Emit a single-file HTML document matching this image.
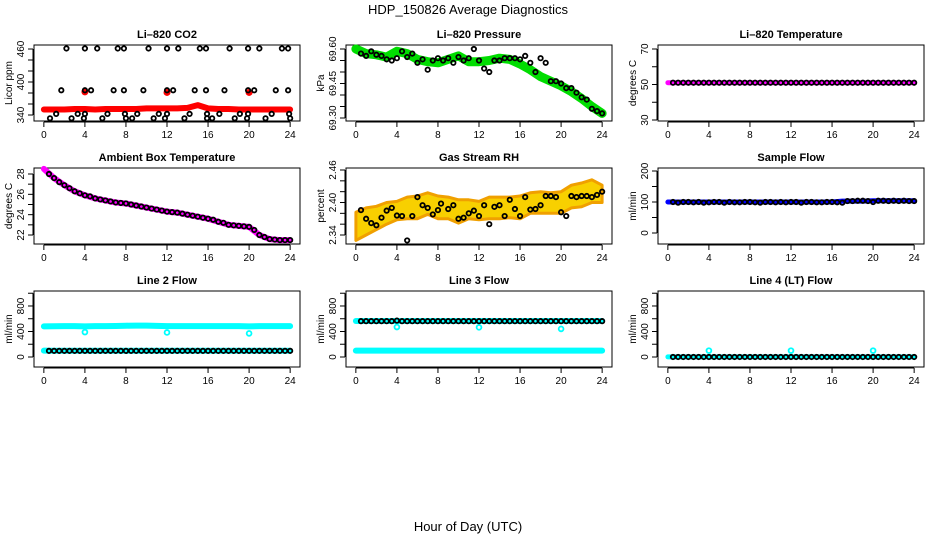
<!DOCTYPE html>
<html><head><meta charset="utf-8">
<style>
html,body{margin:0;padding:0;background:#fff;}
svg{display:block;font-family:"Liberation Sans",Arial,sans-serif;}
</style></head>
<body>
<svg id="chart" width="936" height="540" viewBox="0 0 936 540" xmlns="http://www.w3.org/2000/svg">
<rect width="936" height="540" fill="#fff"/>
<text x="468" y="14" text-anchor="middle" font-size="13">HDP_150826  Average Diagnostics</text>
<text x="468" y="531" text-anchor="middle" font-size="13">Hour of Day (UTC)</text>
</svg>
<script>
// ---- data ----
const xTicks = [0,4,8,12,16,20,24];
const halfHours = [0.5,1,1.5,2,2.5,3,3.5,4,4.5,5,5.5,6,6.5,7,7.5,8,8.5,9,9.5,10,10.5,11,11.5,12,12.5,13,13.5,14,14.5,15,15.5,16,16.5,17,17.5,18,18.5,19,19.5,20,20.5,21,21.5,22,22.5,23,23.5,24];
const hours = [0,1,2,3,4,5,6,7,8,9,10,11,12,13,14,15,16,17,18,19,20,21,22,23,24];

// CO2
const co2BlackHours = [2.2,4.0,5.2,7.2,7.8,10.2,12.0,13.1,15.2,15.8,18.1,19.9,21.0,23.2,23.8, 1.7,4,4.6,6.8,7.8,9.7,12,12.6,14.7,15.8,17.6,19.9,20.5,22.6,23.8, 1.2,3.3,4,6.2,7.9,9.1,11.2,12,14.2,15.9,17.1,19.1,19.9,22.2,23.9, 0.6,2.7,3.9,5.7,8,8.6,10.7,11.8,13.7,15.9,16.4,18.6,19.8,21.6,24];
const co2BlackVals = [461,461,461,461,461,461,461,461,461,461,461,461,461,461,461, 385,385,385,385,385,385,385,385,385,385,385,385,385,385,385, 342,342,342,342,342,342,342,342,342,342,342,342,342,342,342, 334,334,334,334,334,334,334,334,334,334,334,334,334,334,334];
const co2Red = [350,350,350,351,351,350,351,351,351,351,352,352,352,352,353,358,352,351,351,350,350,350,350,350,350];
const co2SpikeHours = [4,12,20];
const co2SpikeVals = [382,381,381];

// Pressure
const presGreen = [69.600,69.580,69.575,69.565,69.590,69.580,69.555,69.545,69.540,69.555,69.570,69.545,69.545,69.550,69.560,69.555,69.535,69.510,69.480,69.460,69.440,69.415,69.385,69.350,69.320];
const presBlack = [69.580,69.570,69.590,69.575,69.570,69.555,69.550,69.560,69.590,69.565,69.580,69.540,69.555,69.510,69.550,69.560,69.550,69.560,69.540,69.565,69.550,69.560,69.600,69.550,69.515,69.500,69.550,69.550,69.560,69.560,69.560,69.555,69.570,69.540,69.500,69.560,69.540,69.460,69.460,69.450,69.430,69.430,69.410,69.390,69.380,69.340,69.330,69.320];

// Li-820 temperature
const tempMag = [51,51,51,51,51,51,51,51,51,51,51,51,51,51,51,51,51,51,51,51,51,51,51,51,51];
const tempBlack = [51,51,51,51,51,51,51,51,51,51,51,51,51,51,51,51,51,51,51,51,51,51,51,51,51,51,51,51,51,51,51,51,51,51,51,51,51,51,51,51,51,51,51,51,51,51,51,51];

// Ambient box temperature
const ambMag = [28.5,27.6,26.9,26.3,25.9,25.6,25.4,25.2,25.1,24.9,24.7,24.5,24.3,24.2,24.0,23.8,23.6,23.3,23.0,22.9,22.8,22.0,21.6,21.5,21.5];
const ambBlack = [28.0,27.6,27.2,26.9,26.6,26.3,26.1,25.9,25.8,25.6,25.5,25.4,25.3,25.2,25.15,25.1,25.0,24.9,24.8,24.7,24.6,24.5,24.4,24.3,24.25,24.2,24.1,24.0,23.9,23.8,23.7,23.6,23.5,23.3,23.2,23.0,22.95,22.9,22.85,22.8,22.5,22.0,21.8,21.6,21.55,21.5,21.5,21.5];

// Gas stream RH
const rhLow  = [2.330,2.340,2.350,2.360,2.368,2.370,2.370,2.378,2.370,2.370,2.362,2.370,2.368,2.370,2.370,2.372,2.370,2.380,2.380,2.380,2.380,2.390,2.392,2.400,2.400];
const rhHigh = [2.382,2.390,2.393,2.400,2.402,2.410,2.412,2.418,2.412,2.410,2.405,2.405,2.402,2.410,2.410,2.410,2.412,2.418,2.420,2.418,2.420,2.432,2.436,2.442,2.432];
const rhBlackHours = [0.5,1,1.5,2,2.5,3,3.5,4,4.5,5,5.5,6,6.5,7,7.5,8,8.3,9,9.5,10,10.5,11,11.5,12,12.5,13,13.5,14,14.5,15,15.5,16,16.5,17,17.5,18,18.5,19,19.5,20,20.5,21,21.5,22,22.5,23,23.5,24];
const rhBlack = [2.386,2.370,2.362,2.358,2.372,2.385,2.390,2.376,2.375,2.330,2.375,2.410,2.395,2.390,2.378,2.386,2.398,2.388,2.395,2.370,2.372,2.380,2.385,2.375,2.395,2.360,2.392,2.395,2.375,2.405,2.388,2.375,2.410,2.387,2.388,2.395,2.412,2.412,2.410,2.382,2.375,2.412,2.410,2.412,2.412,2.410,2.414,2.420];

// Sample flow
const sfBlue = [100,100,100,100,100,100,100,100,100,100,100,100,100,100,100,100,100,103,103,103,104,104,104,104,104];
const sfBlack = [100,98,100,100,99,100,98,99,100,100,98,100,99,99,100,100,99,98,100,100,99,100,99,100,100,98,100,100,99,99,100,100,99,98,103,103,104,104,103,100,104,104,103,104,103,104,103,103];

// Line 2 flow
const l2Upper = [480,482,484,484,480,484,484,486,490,492,492,488,484,484,484,484,484,484,484,484,480,484,484,484,484];
const l2UpperDipHours = [4,12,20];
const l2UpperDips = [390,385,370];
const l2Lower = [100,98,98,98,98,98,98,98,98,98,98,98,98,98,98,98,98,98,98,98,98,98,98,98,98];
const l2Black = [96,96,96,96,96,96,96,96,96,96,96,96,96,96,96,96,96,96,96,96,96,96,96,96,96,96,96,96,96,96,96,96,96,96,96,96,96,96,96,96,96,96,96,96,96,96,96,96];

// Line 3 flow
const l3Upper = [565,565,565,565,565,565,565,565,565,565,565,565,565,565,565,565,565,565,565,565,565,565,565,565,565];
const l3UpperDipHours = [4,12,20];
const l3UpperDips = [470,465,440];
const l3Lower = [100,100,100,100,100,100,100,100,100,100,100,100,100,100,100,100,100,100,100,100,100,100,100,100,100];
const l3Black = [562,562,562,562,562,562,562,570,562,562,562,562,562,562,562,562,562,562,562,562,562,562,562,562,562,562,562,562,562,562,562,562,562,562,562,562,562,562,562,562,562,562,562,562,562,562,562,562];

// Line 4 flow
const l4Cyan = [2,1,1,1,1,1,1,1,1,1,1,1,1,1,1,1,1,1,1,1,1,1,1,1,1];
const l4SpikeHours = [4,12,20];
const l4Spikes = [100,100,100];
const l4Black = [0,0,0,0,0,0,0,0,0,0,0,0,0,0,0,0,0,0,0,0,0,0,0,0,0,0,0,0,0,0,0,0,0,0,0,0,0,0,0,0,0,0,0,0,0,0,0,0];

// ---- layout ----
const NS = 'http://www.w3.org/2000/svg';
const svg = document.getElementById('chart');
const colLeft = [34,346,658], rowTop = [45,168,291], PW = 266, PH = 76;
function mk(tag, attrs, parent){const e=document.createElementNS(NS,tag);for(const k in attrs)e.setAttribute(k,attrs[k]);(parent||svg).appendChild(e);return e;}

function panel(col,row,title,ylab,ymin,ymax,yTicks,yLabels,name){
  const L=colLeft[col],T=rowTop[row];
  const g=mk('g',{});
  
  
  const xs=h=>L+(h+0.96)*PW/25.92;
  const ys=v=>T+(ymax-v)/(ymax-ymin)*PH;
  const fr=mk('rect',{x:L,y:T,width:PW,height:PH,fill:'none',stroke:'#000','stroke-width':1},g);
  
  
  const tt=mk('text',{x:L+PW/2,y:T-7,'text-anchor':'middle','font-size':11,'font-weight':'bold'},g);
  tt.textContent=title;
  
  
  const xa=mk('g',{},g);
  
  
  mk('line',{x1:xs(xTicks[0]),x2:xs(xTicks[xTicks.length-1]),y1:T+PH+1,y2:T+PH+1,stroke:'#000'},xa);
  xTicks.forEach(t=>{
    mk('line',{x1:xs(t),x2:xs(t),y1:T+PH+1,y2:T+PH+6,stroke:'#000'},xa);
    const lb=mk('text',{x:xs(t),y:T+PH+17,'text-anchor':'middle','font-size':10},xa);
    lb.textContent=t;
    
    
  });
  const ya=mk('g',{},g);
  
  
  mk('line',{x1:L-1,x2:L-1,y1:ys(yTicks[0]),y2:ys(yTicks[yTicks.length-1]),stroke:'#000'},ya);
  yTicks.forEach(t=>mk('line',{x1:L-1,x2:L-6,y1:ys(t),y2:ys(t),stroke:'#000'},ya));
  yLabels.forEach(t=>{
    const lb=mk('text',{x:0,y:0,'text-anchor':'middle','font-size':10,transform:`translate(${L-10},${ys(t)}) rotate(-90)`},ya);
    lb.textContent=t;
    
    
  });
  const yl=mk('text',{x:0,y:0,'text-anchor':'middle','font-size':10,transform:`translate(${L-22},${T+PH/2}) rotate(-90)`},g);
  yl.textContent=ylab;
  
  
  return {g,xs,ys};
}
function band(p,xsArr,vals,color,w,name){
  const pts=xsArr.map((h,i)=>p.xs(h).toFixed(1)+','+p.ys(vals[i]).toFixed(1)).join(' ');
  const pl=mk('polyline',{points:pts,fill:'none',stroke:color,'stroke-width':w,'stroke-linejoin':'round','stroke-linecap':'round'},p.g);
  
  
}
function dots(p,xsArr,vals,color,r,filled,name){
  xsArr.forEach((h,i)=>{
    const c=mk('circle',{cx:p.xs(h),cy:p.ys(vals[i]),r:r,fill:filled?color:'none',stroke:color,'stroke-width':filled?0:1.8},p.g);
    
    
  });
}
function area(p,xsArr,lo,hi,name){
  const top=xsArr.map((h,i)=>p.xs(h).toFixed(1)+','+p.ys(hi[i]).toFixed(1));
  const bot=xsArr.map((h,i)=>p.xs(h).toFixed(1)+','+p.ys(lo[i]).toFixed(1)).reverse();
  const pg=mk('polygon',{points:top.concat(bot).join(' '),fill:'#f8d000',stroke:'#f0a000','stroke-width':3,'stroke-linejoin':'round'},p.g);
  
  
}

let p=panel(0,0,'Li\u2013820 CO2','Licor ppm',329.1,467.3,[340,360,380,400,420,440,460],[340,400,460],'co2');
band(p,hours,co2Red,'#ff0000',6,'co2-red-series');
dots(p,co2SpikeHours,co2SpikeVals,'#ff0000',3.5,true,'co2-red-spike');
dots(p,co2BlackHours,co2BlackVals,'#000',2.2,false,'co2-black-point');

p=panel(1,0,'Li\u2013820 Pressure','kPa',69.287,69.6174,[69.30,69.35,69.40,69.45,69.50,69.55,69.60],['69.30','69.45','69.60'],'pressure');
band(p,hours,presGreen,'#00dd00',9,'pressure-green-series');
dots(p,halfHours,presBlack,'#000',2.2,false,'pressure-black-point');

p=panel(2,0,'Li\u2013820 Temperature','degrees C',29.44,72.25,[30,40,50,60,70],[30,50,70],'li-temp');
band(p,hours,tempMag,'#ff00ff',5,'li-temp-magenta-series');
dots(p,halfHours,tempBlack,'#000',2.2,false,'li-temp-black-point');

p=panel(0,1,'Ambient Box Temperature','degrees C',21.115,28.59,[22,23,24,25,26,27,28],[22,24,26,28],'ambient');
band(p,hours,ambMag,'#ff00ff',6,'ambient-magenta-series');
dots(p,halfHours,ambBlack,'#000',2.2,false,'ambient-black-point');

p=panel(1,1,'Gas Stream RH','percent',2.3234,2.4637,[2.34,2.36,2.38,2.40,2.42,2.44,2.46],['2.34','2.40','2.46'],'rh');
area(p,hours,rhLow,rhHigh,'rh-yellow-band');
dots(p,rhBlackHours,rhBlack,'#000',2.2,false,'rh-black-point');

p=panel(2,1,'Sample Flow','ml/min',-35.5,209.7,[0,50,100,150,200],[0,100,200],'sample-flow');
band(p,hours,sfBlue,'#0000ff',5,'sample-flow-blue-series');
dots(p,halfHours,sfBlack,'#000',2.2,false,'sample-flow-black-point');

p=panel(0,2,'Line 2 Flow','ml/min',-157,1035,[0,200,400,600,800,1000],[0,400,800],'line2');
band(p,hours,l2Upper,'#00ffff',6,'line2-cyan-upper');
dots(p,l2UpperDipHours,l2UpperDips,'#00ffff',2.4,false,'line2-cyan-dip');
band(p,hours,l2Lower,'#00ffff',6,'line2-cyan-lower');
dots(p,halfHours,l2Black,'#000',2.2,false,'line2-black-point');

p=panel(1,2,'Line 3 Flow','ml/min',-157,1035,[0,200,400,600,800,1000],[0,400,800],'line3');
band(p,hours,l3Upper,'#00ffff',6,'line3-cyan-upper');
dots(p,l3UpperDipHours,l3UpperDips,'#00ffff',2.4,false,'line3-cyan-dip');
band(p,hours,l3Lower,'#00ffff',6,'line3-cyan-lower');
dots(p,halfHours,l3Black,'#000',2.2,false,'line3-black-point');

p=panel(2,2,'Line 4 (LT) Flow','ml/min',-157,1035,[0,200,400,600,800,1000],[0,400,800],'line4');
band(p,hours,l4Cyan,'#00ffff',5,'line4-cyan-series');
dots(p,l4SpikeHours,l4Spikes,'#00ffff',2.4,false,'line4-cyan-spike');
dots(p,halfHours,l4Black,'#000',2.2,false,'line4-black-point');
</script>
</body></html>
